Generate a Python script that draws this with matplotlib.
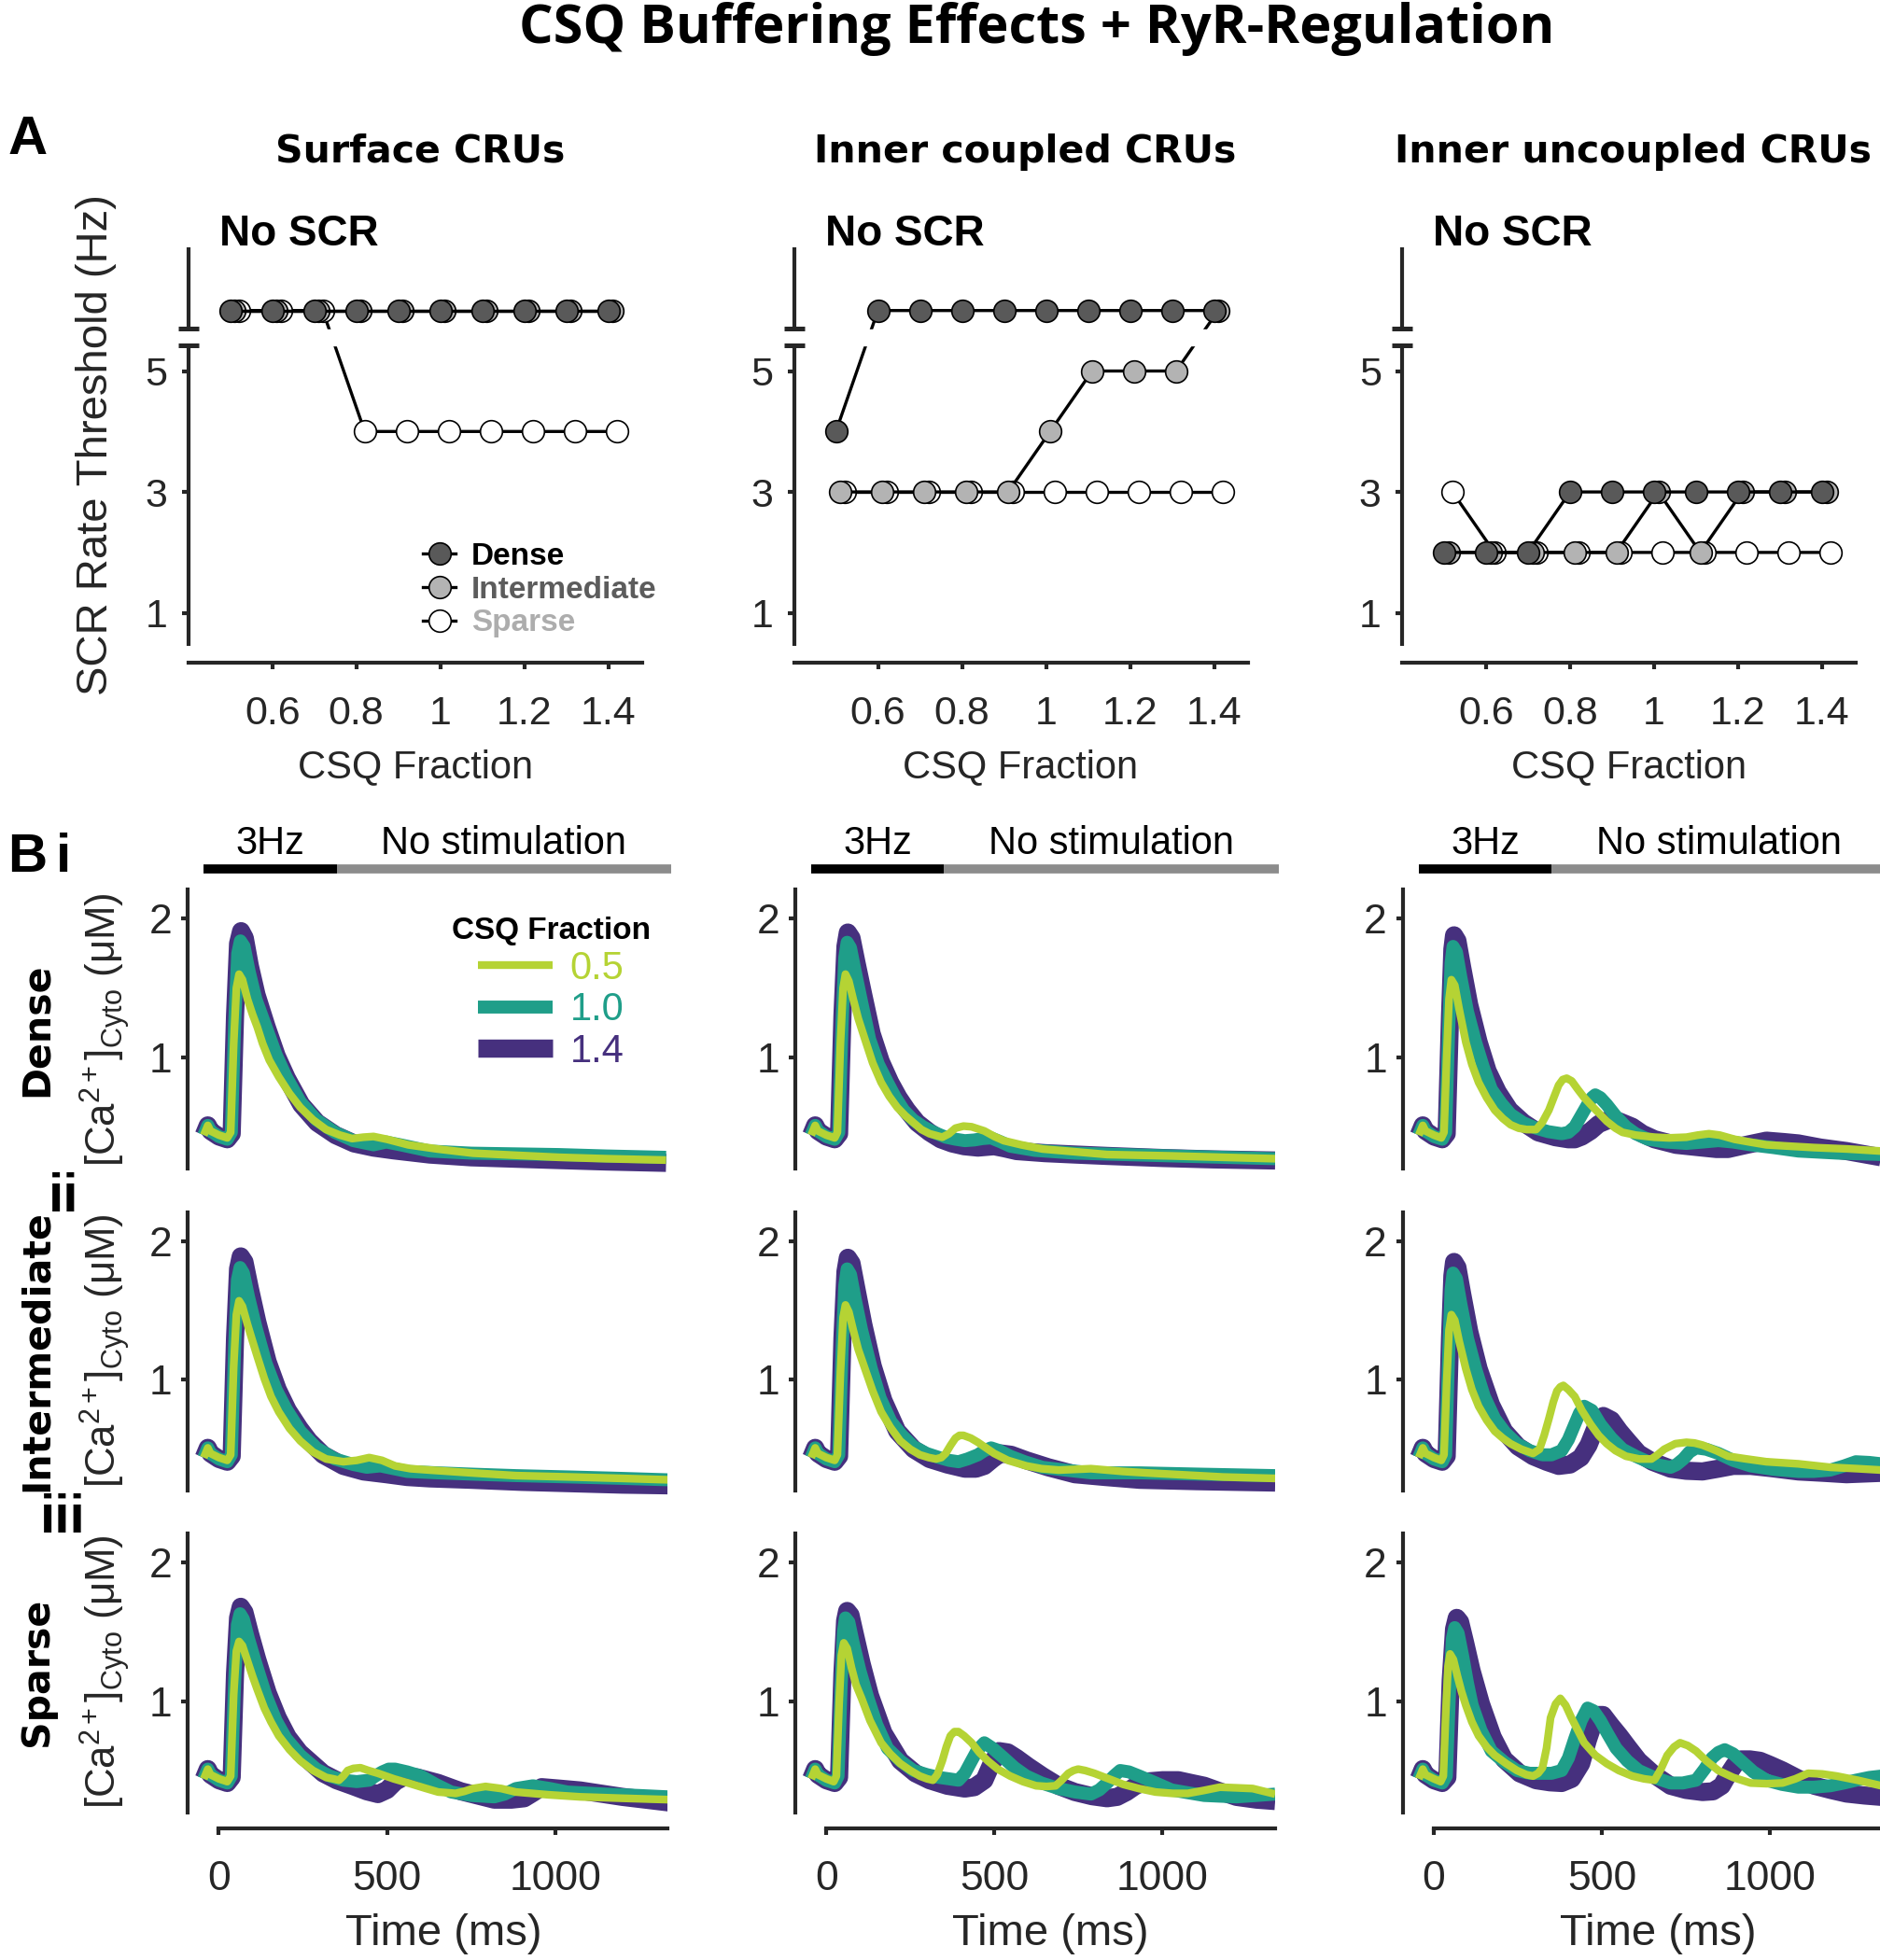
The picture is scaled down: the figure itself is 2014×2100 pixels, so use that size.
import numpy as np
import matplotlib
matplotlib.use('Agg')
import matplotlib.pyplot as plt

plt.rcParams['font.family'] = ['Liberation Sans', 'DejaVu Sans']
plt.rcParams['mathtext.fontset'] = 'custom'
plt.rcParams['mathtext.rm'] = 'Liberation Sans'
plt.rcParams['mathtext.it'] = 'Liberation Sans:italic'
plt.rcParams['mathtext.bf'] = 'Liberation Sans:bold'

# ---------------- panel A: SCR rate threshold (Hz), 6 = "No SCR" ----------------
csq_fraction = [0.5, 0.6, 0.7, 0.8, 0.9, 1.0, 1.1, 1.2, 1.3, 1.4]
surf_dense = [6, 6, 6, 6, 6, 6, 6, 6, 6, 6]
surf_inter = [6, 6, 6, 6, 6, 6, 6, 6, 6, 6]
surf_sparse = [6, 6, 6, 4, 4, 4, 4, 4, 4, 4]
coup_dense = [4, 6, 6, 6, 6, 6, 6, 6, 6, 6]
coup_inter = [3, 3, 3, 3, 3, 4, 5, 5, 5, 6]
coup_sparse = [3, 3, 3, 3, 3, 3, 3, 3, 3, 3]
unc_dense = [2, 2, 2, 3, 3, 3, 3, 3, 3, 3]
unc_inter = [2, 2, 2, 2, 2, 3, 2, 3, 3, 3]
unc_sparse = [3, 2, 2, 2, 2, 2, 2, 2, 2, 2]
region_titles = ['Surface CRUs', 'Inner coupled CRUs', 'Inner uncoupled CRUs']
density_names = ['Dense', 'Intermediate', 'Sparse']

# ---------------- panel B: cytosolic Ca2+ (uM) vs time (ms) ----------------
stim_window = [-45, 350]
rest_window = [350, 1345]

# surface CRUs
surf_dense_05_t = [-45, -33, -25, 0, 25, 35, 44, 52, 60, 70, 85, 100, 114, 130, 150, 178, 210, 242, 280, 319, 360, 396, 430, 460, 500, 563, 650, 755, 880, 1011, 1150, 1330]
surf_dense_05_ca = [0.44, 0.51, 0.47, 0.44, 0.42, 0.46, 1.10, 1.50, 1.60, 1.56, 1.42, 1.31, 1.22, 1.10, 0.98, 0.86, 0.74, 0.64, 0.55, 0.48, 0.44, 0.415, 0.425, 0.43, 0.41, 0.37, 0.34, 0.31, 0.295, 0.28, 0.27, 0.26]
surf_dense_10_t = [-45, -33, -25, 0, 25, 37, 47, 56, 64, 75, 90, 110, 140, 170, 200, 242, 290, 345, 400, 460, 498, 540, 627, 750, 880, 1011, 1150, 1330]
surf_dense_10_ca = [0.44, 0.51, 0.47, 0.43, 0.41, 0.46, 1.25, 1.75, 1.84, 1.80, 1.62, 1.42, 1.22, 1.02, 0.86, 0.68, 0.55, 0.46, 0.40, 0.37, 0.39, 0.37, 0.325, 0.31, 0.305, 0.30, 0.29, 0.28]
surf_dense_14_t = [-45, -33, -25, 0, 25, 38, 48, 57, 66, 77, 92, 112, 142, 172, 202, 245, 292, 347, 402, 460, 520, 627, 750, 880, 1011, 1150, 1330]
surf_dense_14_ca = [0.44, 0.51, 0.47, 0.43, 0.41, 0.45, 1.3, 1.82, 1.91, 1.86, 1.66, 1.45, 1.22, 1.01, 0.85, 0.66, 0.53, 0.44, 0.38, 0.35, 0.33, 0.30, 0.28, 0.27, 0.26, 0.25, 0.24]

surf_inter_05_t = [-45, -33, -25, 0, 25, 35, 44, 52, 60, 70, 85, 100, 114, 135, 155, 178, 210, 242, 280, 319, 370, 410, 447, 485, 524, 570, 627, 750, 883, 1050, 1200, 1335]
surf_inter_05_ca = [0.44, 0.51, 0.47, 0.44, 0.42, 0.46, 1.1, 1.47, 1.57, 1.53, 1.40, 1.28, 1.17, 1.01, 0.88, 0.77, 0.65, 0.56, 0.48, 0.43, 0.41, 0.42, 0.44, 0.42, 0.38, 0.36, 0.35, 0.33, 0.31, 0.30, 0.29, 0.28]
surf_inter_10_t = [-45, -33, -25, 0, 25, 37, 47, 55, 63, 73, 88, 110, 140, 170, 200, 242, 290, 345, 400, 440, 480, 520, 560, 650, 760, 883, 1050, 1200, 1335]
surf_inter_10_ca = [0.44, 0.51, 0.47, 0.43, 0.41, 0.46, 1.25, 1.72, 1.81, 1.77, 1.60, 1.38, 1.12, 0.93, 0.79, 0.63, 0.51, 0.43, 0.39, 0.37, 0.38, 0.36, 0.34, 0.33, 0.32, 0.31, 0.30, 0.29, 0.28]
surf_inter_14_t = [-45, -33, -25, 0, 25, 38, 48, 57, 65, 76, 92, 114, 145, 175, 205, 240, 268, 310, 370, 430, 498, 560, 627, 750, 900, 1050, 1200, 1338]
surf_inter_14_ca = [0.44, 0.51, 0.47, 0.43, 0.41, 0.45, 1.3, 1.80, 1.89, 1.85, 1.66, 1.42, 1.13, 0.93, 0.78, 0.65, 0.56, 0.46, 0.38, 0.34, 0.32, 0.30, 0.29, 0.28, 0.265, 0.255, 0.245, 0.24]

surf_sparse_05_t = [-45, -33, -25, 0, 25, 35, 44, 52, 60, 70, 85, 100, 114, 135, 155, 178, 210, 242, 280, 319, 340, 357, 370, 383, 400, 421, 445, 473, 520, 563, 610, 652, 704, 730, 755, 793, 840, 883, 980, 1075, 1200, 1338]
surf_sparse_05_ca = [0.44, 0.51, 0.47, 0.44, 0.42, 0.46, 1.05, 1.36, 1.43, 1.40, 1.29, 1.18, 1.085, 0.95, 0.85, 0.75, 0.65, 0.57, 0.50, 0.45, 0.44, 0.43, 0.46, 0.50, 0.515, 0.52, 0.50, 0.48, 0.44, 0.41, 0.375, 0.345, 0.335, 0.35, 0.37, 0.385, 0.37, 0.345, 0.325, 0.31, 0.30, 0.29]
surf_sparse_10_t = [-45, -33, -25, 0, 25, 37, 47, 55, 63, 73, 88, 110, 140, 170, 200, 242, 290, 330, 370, 410, 447, 465, 486, 505, 524, 560, 601, 645, 691, 750, 819, 850, 883, 934, 985, 1037, 1150, 1250, 1338]
surf_sparse_10_ca = [0.44, 0.51, 0.47, 0.43, 0.41, 0.46, 1.15, 1.55, 1.63, 1.59, 1.45, 1.27, 1.04, 0.86, 0.73, 0.61, 0.51, 0.46, 0.43, 0.42, 0.43, 0.46, 0.49, 0.51, 0.51, 0.49, 0.46, 0.40, 0.345, 0.32, 0.31, 0.33, 0.37, 0.39, 0.37, 0.345, 0.33, 0.32, 0.31]
surf_sparse_14_t = [-45, -33, -25, 0, 25, 38, 48, 57, 65, 76, 92, 114, 145, 175, 205, 240, 268, 310, 350, 396, 440, 473, 500, 525, 555, 590, 652, 720, 819, 870, 908, 935, 960, 1010, 1075, 1200, 1338]
surf_sparse_14_ca = [0.44, 0.51, 0.47, 0.43, 0.41, 0.45, 1.2, 1.60, 1.68, 1.64, 1.49, 1.30, 1.06, 0.88, 0.74, 0.63, 0.57, 0.48, 0.43, 0.39, 0.35, 0.33, 0.36, 0.42, 0.46, 0.45, 0.41, 0.35, 0.29, 0.29, 0.30, 0.34, 0.38, 0.37, 0.356, 0.31, 0.27]

# inner coupled CRUs
coup_dense_05_t = [-45, -33, -25, 0, 25, 33, 42, 50, 57, 67, 80, 95, 115, 138, 163, 187, 211, 235, 259, 283, 307, 345, 365, 384, 408, 432, 470, 500, 528, 580, 643, 740, 835, 1027, 1180, 1335]
coup_dense_05_ca = [0.44, 0.51, 0.47, 0.44, 0.42, 0.46, 1.1, 1.5, 1.60, 1.55, 1.42, 1.28, 1.13, 0.96, 0.82, 0.72, 0.64, 0.58, 0.53, 0.48, 0.45, 0.425, 0.45, 0.49, 0.505, 0.50, 0.47, 0.43, 0.40, 0.37, 0.34, 0.32, 0.30, 0.29, 0.28, 0.27]
coup_dense_10_t = [-45, -33, -25, 0, 25, 37, 47, 55, 62, 72, 86, 105, 129, 155, 182, 206, 230, 258, 288, 320, 355, 385, 412, 440, 465, 490, 520, 547, 620, 739, 880, 1027, 1180, 1335]
coup_dense_10_ca = [0.44, 0.51, 0.47, 0.43, 0.41, 0.46, 1.25, 1.72, 1.83, 1.79, 1.62, 1.40, 1.13, 0.95, 0.82, 0.71, 0.62, 0.55, 0.50, 0.46, 0.425, 0.41, 0.40, 0.405, 0.415, 0.42, 0.39, 0.36, 0.33, 0.31, 0.30, 0.29, 0.28, 0.27]
coup_dense_14_t = [-45, -33, -25, 0, 25, 38, 48, 57, 64, 75, 90, 110, 135, 162, 190, 215, 240, 270, 307, 340, 374, 410, 451, 499, 530, 566, 650, 740, 835, 1000, 1150, 1335]
coup_dense_14_ca = [0.44, 0.51, 0.47, 0.43, 0.41, 0.45, 1.3, 1.80, 1.90, 1.86, 1.68, 1.45, 1.17, 0.97, 0.82, 0.71, 0.62, 0.53, 0.46, 0.41, 0.38, 0.36, 0.35, 0.36, 0.345, 0.325, 0.31, 0.30, 0.29, 0.275, 0.265, 0.257]

coup_inter_05_t = [-45, -33, -25, 0, 25, 33, 42, 50, 57, 67, 80, 95, 115, 138, 163, 190, 220, 250, 278, 305, 326, 342, 355, 370, 384, 396, 408, 430, 451, 475, 499, 540, 595, 640, 691, 740, 787, 835, 883, 950, 1027, 1180, 1335]
coup_inter_05_ca = [0.44, 0.51, 0.47, 0.44, 0.42, 0.46, 1.05, 1.45, 1.54, 1.49, 1.36, 1.22, 1.08, 0.92, 0.77, 0.66, 0.56, 0.50, 0.46, 0.44, 0.43, 0.44, 0.47, 0.53, 0.58, 0.60, 0.60, 0.58, 0.55, 0.51, 0.47, 0.42, 0.38, 0.36, 0.35, 0.355, 0.36, 0.35, 0.34, 0.33, 0.32, 0.30, 0.29]
coup_inter_10_t = [-45, -33, -25, 0, 25, 37, 47, 55, 62, 72, 86, 105, 134, 160, 192, 225, 259, 298, 336, 365, 393, 420, 451, 470, 490, 515, 547, 590, 643, 710, 787, 860, 931, 1030, 1124, 1230, 1335]
coup_inter_10_ca = [0.44, 0.51, 0.47, 0.43, 0.41, 0.46, 1.22, 1.68, 1.80, 1.76, 1.58, 1.36, 1.08, 0.87, 0.70, 0.60, 0.52, 0.47, 0.44, 0.42, 0.41, 0.43, 0.46, 0.49, 0.51, 0.49, 0.45, 0.41, 0.37, 0.35, 0.33, 0.33, 0.33, 0.325, 0.32, 0.315, 0.31]
coup_inter_14_t = [-45, -33, -25, 0, 25, 38, 48, 57, 64, 75, 90, 110, 138, 170, 211, 260, 307, 360, 412, 445, 470, 495, 518, 550, 595, 660, 739, 830, 931, 1100, 1335]
coup_inter_14_ca = [0.44, 0.51, 0.47, 0.43, 0.41, 0.45, 1.3, 1.78, 1.88, 1.84, 1.65, 1.40, 1.10, 0.85, 0.63, 0.50, 0.43, 0.39, 0.36, 0.36, 0.38, 0.43, 0.47, 0.46, 0.42, 0.37, 0.32, 0.30, 0.28, 0.27, 0.26]

coup_sparse_05_t = [-45, -33, -25, 0, 22, 30, 38, 45, 52, 62, 75, 88, 105, 130, 163, 190, 220, 250, 278, 300, 317, 330, 345, 357, 369, 381, 393, 410, 432, 455, 480, 510, 547, 585, 624, 655, 682, 700, 720, 735, 749, 770, 797, 840, 883, 930, 979, 1030, 1075, 1120, 1171, 1220, 1268, 1335]
coup_sparse_05_ca = [0.44, 0.51, 0.47, 0.44, 0.42, 0.46, 0.98, 1.33, 1.42, 1.38, 1.24, 1.12, 1.02, 0.86, 0.70, 0.62, 0.55, 0.50, 0.46, 0.44, 0.43, 0.47, 0.57, 0.67, 0.75, 0.78, 0.78, 0.75, 0.70, 0.63, 0.57, 0.51, 0.46, 0.42, 0.39, 0.385, 0.39, 0.43, 0.48, 0.50, 0.51, 0.50, 0.48, 0.44, 0.40, 0.37, 0.345, 0.335, 0.335, 0.355, 0.38, 0.375, 0.37, 0.33]
coup_sparse_10_t = [-45, -33, -25, 0, 25, 35, 44, 51, 57, 67, 80, 100, 124, 150, 182, 220, 259, 300, 336, 365, 393, 412, 432, 450, 470, 495, 528, 560, 595, 640, 691, 740, 787, 812, 835, 855, 874, 900, 931, 980, 1027, 1075, 1124, 1170, 1220, 1280, 1335]
coup_sparse_10_ca = [0.44, 0.51, 0.47, 0.43, 0.41, 0.46, 1.1, 1.50, 1.60, 1.57, 1.42, 1.22, 1.02, 0.83, 0.66, 0.57, 0.50, 0.47, 0.45, 0.44, 0.43, 0.48, 0.57, 0.65, 0.70, 0.66, 0.59, 0.52, 0.46, 0.41, 0.37, 0.345, 0.33, 0.36, 0.41, 0.46, 0.50, 0.49, 0.46, 0.41, 0.36, 0.34, 0.32, 0.315, 0.31, 0.32, 0.33]
coup_sparse_14_t = [-45, -33, -25, 0, 25, 38, 48, 56, 62, 72, 86, 105, 130, 170, 220, 265, 307, 360, 412, 440, 470, 490, 513, 540, 566, 600, 643, 690, 739, 790, 835, 865, 893, 920, 950, 1000, 1047, 1085, 1124, 1170, 1220, 1280, 1335]
coup_sparse_14_ca = [0.44, 0.51, 0.47, 0.43, 0.41, 0.45, 1.2, 1.58, 1.65, 1.62, 1.47, 1.27, 1.04, 0.77, 0.57, 0.48, 0.43, 0.39, 0.37, 0.38, 0.43, 0.54, 0.64, 0.63, 0.59, 0.53, 0.46, 0.39, 0.345, 0.315, 0.30, 0.31, 0.345, 0.39, 0.42, 0.43, 0.43, 0.41, 0.39, 0.35, 0.31, 0.29, 0.28]

# inner uncoupled CRUs
unc_dense_05_t = [-45, -33, -25, 0, 22, 30, 38, 45, 52, 62, 75, 95, 113, 133, 157, 181, 205, 228, 252, 276, 304, 322, 342, 358, 371, 383, 395, 410, 428, 447, 466, 490, 514, 540, 561, 600, 656, 700, 751, 785, 818, 850, 894, 940, 989, 1060, 1132, 1230, 1331]
unc_dense_05_ca = [0.44, 0.51, 0.47, 0.44, 0.42, 0.46, 1.0, 1.42, 1.56, 1.52, 1.35, 1.11, 0.95, 0.82, 0.71, 0.62, 0.56, 0.515, 0.49, 0.48, 0.48, 0.53, 0.62, 0.72, 0.80, 0.84, 0.85, 0.83, 0.77, 0.71, 0.66, 0.60, 0.54, 0.49, 0.46, 0.44, 0.425, 0.42, 0.425, 0.44, 0.45, 0.44, 0.41, 0.39, 0.37, 0.36, 0.35, 0.34, 0.325]
unc_dense_10_t = [-45, -33, -25, 0, 25, 35, 44, 51, 57, 67, 80, 100, 124, 147, 171, 200, 228, 265, 304, 340, 380, 400, 419, 438, 457, 470, 480, 495, 514, 540, 571, 600, 637, 690, 751, 800, 846, 890, 942, 1010, 1084, 1200, 1331]
unc_dense_10_ca = [0.44, 0.51, 0.47, 0.43, 0.41, 0.46, 1.2, 1.68, 1.80, 1.76, 1.58, 1.33, 1.11, 0.93, 0.77, 0.67, 0.59, 0.53, 0.49, 0.465, 0.45, 0.46, 0.50, 0.58, 0.66, 0.71, 0.73, 0.71, 0.66, 0.58, 0.50, 0.45, 0.41, 0.39, 0.38, 0.39, 0.40, 0.39, 0.37, 0.35, 0.325, 0.31, 0.30]
unc_dense_14_t = [-45, -33, -25, 0, 25, 38, 48, 55, 60, 70, 84, 105, 133, 160, 190, 225, 266, 310, 361, 400, 419, 440, 466, 490, 520, 550, 590, 620, 656, 720, 799, 840, 875, 930, 989, 1040, 1084, 1150, 1227, 1331]
unc_dense_14_ca = [0.44, 0.51, 0.47, 0.43, 0.41, 0.45, 1.3, 1.78, 1.88, 1.84, 1.65, 1.38, 1.11, 0.90, 0.75, 0.62, 0.53, 0.46, 0.425, 0.41, 0.41, 0.43, 0.47, 0.52, 0.55, 0.54, 0.50, 0.45, 0.41, 0.37, 0.35, 0.34, 0.34, 0.37, 0.40, 0.39, 0.38, 0.35, 0.325, 0.28]

unc_inter_05_t = [-45, -33, -25, 0, 22, 30, 38, 45, 52, 62, 75, 95, 113, 133, 157, 181, 205, 228, 260, 295, 314, 328, 342, 355, 366, 376, 385, 400, 419, 440, 466, 490, 514, 540, 571, 610, 647, 665, 685, 718, 751, 775, 799, 840, 875, 930, 989, 1084, 1179, 1260, 1331]
unc_inter_05_ca = [0.44, 0.51, 0.47, 0.44, 0.42, 0.46, 0.98, 1.36, 1.47, 1.43, 1.28, 1.08, 0.93, 0.81, 0.71, 0.63, 0.58, 0.54, 0.50, 0.47, 0.50, 0.60, 0.72, 0.84, 0.92, 0.95, 0.96, 0.93, 0.88, 0.78, 0.68, 0.60, 0.54, 0.49, 0.45, 0.43, 0.43, 0.46, 0.50, 0.54, 0.55, 0.545, 0.53, 0.49, 0.45, 0.43, 0.41, 0.395, 0.37, 0.36, 0.35]
unc_inter_10_t = [-45, -33, -25, 0, 25, 35, 44, 51, 57, 67, 80, 100, 124, 150, 181, 212, 247, 285, 323, 350, 380, 400, 419, 433, 447, 470, 495, 528, 561, 600, 637, 670, 704, 722, 742, 760, 780, 810, 846, 890, 942, 1010, 1084, 1130, 1179, 1220, 1255, 1295, 1331]
unc_inter_10_ca = [0.44, 0.51, 0.47, 0.43, 0.41, 0.46, 1.2, 1.65, 1.77, 1.73, 1.55, 1.30, 1.08, 0.88, 0.72, 0.62, 0.54, 0.49, 0.46, 0.46, 0.49, 0.57, 0.68, 0.76, 0.81, 0.78, 0.68, 0.58, 0.50, 0.45, 0.41, 0.385, 0.37, 0.39, 0.43, 0.48, 0.51, 0.50, 0.47, 0.42, 0.38, 0.355, 0.34, 0.34, 0.35, 0.38, 0.41, 0.405, 0.395]
unc_inter_14_t = [-45, -33, -25, 0, 25, 38, 48, 55, 60, 70, 84, 105, 133, 170, 209, 250, 295, 335, 371, 405, 437, 460, 480, 504, 528, 552, 580, 609, 650, 704, 750, 799, 846, 890, 942, 1000, 1084, 1160, 1227, 1331]
unc_inter_14_ca = [0.44, 0.51, 0.47, 0.43, 0.41, 0.45, 1.3, 1.75, 1.85, 1.81, 1.62, 1.35, 1.08, 0.82, 0.63, 0.52, 0.45, 0.41, 0.38, 0.39, 0.44, 0.53, 0.65, 0.74, 0.71, 0.63, 0.55, 0.47, 0.41, 0.36, 0.345, 0.34, 0.36, 0.38, 0.38, 0.365, 0.34, 0.33, 0.32, 0.33]

unc_sparse_05_t = [-45, -33, -25, 0, 20, 28, 35, 42, 48, 58, 70, 82, 95, 113, 133, 157, 181, 215, 247, 275, 295, 310, 323, 335, 347, 362, 376, 392, 409, 428, 447, 480, 514, 550, 590, 625, 656, 675, 694, 714, 732, 755, 780, 810, 846, 890, 942, 990, 1037, 1075, 1113, 1155, 1198, 1260, 1331]
unc_sparse_05_ca = [0.44, 0.51, 0.47, 0.44, 0.42, 0.46, 0.9, 1.25, 1.34, 1.30, 1.18, 1.07, 0.97, 0.85, 0.75, 0.67, 0.61, 0.55, 0.50, 0.47, 0.46, 0.48, 0.52, 0.66, 0.88, 0.98, 1.02, 0.97, 0.88, 0.79, 0.70, 0.61, 0.55, 0.50, 0.46, 0.44, 0.43, 0.51, 0.61, 0.67, 0.70, 0.68, 0.64, 0.57, 0.50, 0.45, 0.41, 0.405, 0.41, 0.44, 0.48, 0.475, 0.46, 0.43, 0.39]
unc_sparse_10_t = [-45, -33, -25, 0, 25, 37, 47, 55, 62, 72, 86, 100, 114, 140, 171, 210, 247, 285, 323, 350, 380, 400, 419, 438, 457, 475, 495, 518, 542, 575, 609, 655, 704, 740, 780, 805, 827, 846, 865, 890, 913, 950, 989, 1035, 1084, 1130, 1179, 1220, 1255, 1295, 1331]
unc_sparse_10_ca = [0.44, 0.51, 0.47, 0.43, 0.41, 0.46, 1.1, 1.45, 1.53, 1.49, 1.32, 1.13, 0.97, 0.79, 0.64, 0.56, 0.50, 0.48, 0.48, 0.48, 0.50, 0.59, 0.73, 0.86, 0.95, 0.93, 0.86, 0.76, 0.66, 0.57, 0.50, 0.45, 0.41, 0.41, 0.43, 0.51, 0.59, 0.63, 0.65, 0.62, 0.57, 0.49, 0.43, 0.40, 0.38, 0.38, 0.39, 0.41, 0.43, 0.45, 0.46]
unc_sparse_14_t = [-45, -33, -25, 0, 25, 40, 50, 60, 68, 78, 92, 112, 140, 175, 209, 255, 304, 345, 380, 410, 438, 458, 476, 490, 503, 525, 552, 580, 609, 655, 704, 750, 799, 830, 856, 875, 894, 913, 940, 970, 1000, 1037, 1085, 1132, 1180, 1227, 1280, 1331]
unc_sparse_14_ca = [0.44, 0.51, 0.47, 0.43, 0.41, 0.45, 1.15, 1.52, 1.60, 1.57, 1.43, 1.22, 0.98, 0.74, 0.58, 0.48, 0.43, 0.415, 0.41, 0.44, 0.55, 0.72, 0.85, 0.90, 0.90, 0.83, 0.75, 0.66, 0.57, 0.47, 0.39, 0.36, 0.345, 0.35, 0.39, 0.47, 0.54, 0.58, 0.58, 0.57, 0.54, 0.50, 0.44, 0.39, 0.36, 0.334, 0.32, 0.31]

csq_levels = ['0.5', '1.0', '1.4']
csq_colors = ['#b5d334', '#1f9e89', '#46307e']
csq_widths = [6, 10, 14]

# ---------------- layout helpers (figure pixels) ----------------
W, H = 2014, 2100
AXC = '#262626'


def fx(x):
    return x / W


def fy(y):
    return 1 - y / H


fig = plt.figure(figsize=(W / 100, H / 100), dpi=100)

fig.text(fx(1111), fy(31), 'CSQ Buffering Effects + RyR-Regulation', ha='center', va='center',
         fontsize=41.5, fontweight='bold', family=['Open Sans', 'DejaVu Sans'])

# ---------------- panel A ----------------
a_left = [201.7, 850.5, 1502.0]
a_top, a_bot = 265.0, 710.0
a_series = [
    (surf_dense, surf_inter, surf_sparse),
    (coup_dense, coup_inter, coup_sparse),
    (unc_dense, unc_inter, unc_sparse),
]
faces = ['#595959', '#b3b3b3', 'white']
offsets = [0.0, 0.01, 0.02]
legend_handles = None
x = np.array(csq_fraction)
for k in range(3):
    ax = fig.add_axes([fx(a_left[k]), fy(a_bot), 486 / W, (a_bot - a_top) / H])
    ax.set_xlim(0.4, 1.48)
    ax.set_ylim(0.177, 7.045)
    handles = []
    # sparse first so dense sits on top
    for j in [2, 1, 0]:
        h, = ax.plot(x + offsets[j], a_series[k][j], '-o', color='black', lw=2.4, ms=17,
                     mfc=faces[j], mec='black', mew=1.2, zorder=3 + (2 - j) * 0.1, clip_on=False)
        handles.append(h)
    if legend_handles is None:
        legend_handles = handles[::-1]
    # gap for the axis break
    ax.axhspan(5.43, 5.69, color='white', zorder=4)
    for s in ['top', 'right', 'left']:
        ax.spines[s].set_visible(False)
    ax.spines['bottom'].set_linewidth(3)
    ax.spines['bottom'].set_color(AXC)
    ytr = ax.get_yaxis_transform()
    ax.plot([0, 0], [0.46, 5.42], color=AXC, lw=3, transform=ytr, clip_on=False,
            solid_capstyle='butt', zorder=6)
    ax.plot([0, 0], [5.70, 7.045], color=AXC, lw=3, transform=ytr, clip_on=False,
            solid_capstyle='butt', zorder=6)
    ax.plot([0, 0], [5.42, 5.70], ls='none', marker='_', ms=16, mew=3.6, color=AXC,
            transform=ytr, clip_on=False, zorder=6)
    ax.set_xticks([0.6, 0.8, 1.0, 1.2, 1.4])
    ax.set_xticklabels(['0.6', '0.8', '1', '1.2', '1.4'])
    ax.set_yticks([1, 3, 5])
    ax.set_yticklabels(['1', '3', '5'])
    ax.tick_params(axis='both', direction='out', length=5, width=3, color=AXC,
                   labelcolor=AXC, labelsize=31)
    ax.tick_params(axis='x', pad=20)
    ax.tick_params(axis='y', pad=11)
    ax.patch.set_visible(False)
    cx = a_left[k] + 243
    fig.text(fx(cx + 5), fy(174), region_titles[k], ha='center', va='baseline',
             fontsize=29.5, fontweight='bold', family='DejaVu Sans')
    fig.text(fx(a_left[k] + 33), fy(263), 'No SCR', ha='left', va='baseline',
             fontsize=33, fontweight='bold')
    fig.text(fx(cx), fy(822), 'CSQ Fraction', ha='center', va='center', fontsize=30, color=AXC)
    if k == 0:
        leg = ax.legend(handles=legend_handles, labels=density_names, loc='upper left',
                        bbox_to_anchor=(fx(453), fy(581)), bbox_transform=fig.transFigure,
                        frameon=False, prop={'weight': 'bold', 'size': 24}, handlelength=1.05,
                        handletextpad=0.5, labelspacing=0.14, borderpad=0, borderaxespad=0)
        for t, c in zip(leg.get_texts(), ['black', '#5c5c5c', '#adadad']):
            t.set_color(c)

fig.text(fx(103), fy(477), 'SCR Rate Threshold (Hz)', rotation=90, ha='center', va='center',
         fontsize=34, color=AXC)
fig.text(fx(29.5), fy(150), 'A', ha='center', va='center', fontsize=42, fontweight='bold')

# ---------------- panel B ----------------
b_traces = {
    ('surf', 'dense'): [(surf_dense_05_t, surf_dense_05_ca), (surf_dense_10_t, surf_dense_10_ca), (surf_dense_14_t, surf_dense_14_ca)],
    ('surf', 'inter'): [(surf_inter_05_t, surf_inter_05_ca), (surf_inter_10_t, surf_inter_10_ca), (surf_inter_14_t, surf_inter_14_ca)],
    ('surf', 'sparse'): [(surf_sparse_05_t, surf_sparse_05_ca), (surf_sparse_10_t, surf_sparse_10_ca), (surf_sparse_14_t, surf_sparse_14_ca)],
    ('coup', 'dense'): [(coup_dense_05_t, coup_dense_05_ca), (coup_dense_10_t, coup_dense_10_ca), (coup_dense_14_t, coup_dense_14_ca)],
    ('coup', 'inter'): [(coup_inter_05_t, coup_inter_05_ca), (coup_inter_10_t, coup_inter_10_ca), (coup_inter_14_t, coup_inter_14_ca)],
    ('coup', 'sparse'): [(coup_sparse_05_t, coup_sparse_05_ca), (coup_sparse_10_t, coup_sparse_10_ca), (coup_sparse_14_t, coup_sparse_14_ca)],
    ('unc', 'dense'): [(unc_dense_05_t, unc_dense_05_ca), (unc_dense_10_t, unc_dense_10_ca), (unc_dense_14_t, unc_dense_14_ca)],
    ('unc', 'inter'): [(unc_inter_05_t, unc_inter_05_ca), (unc_inter_10_t, unc_inter_10_ca), (unc_inter_14_t, unc_inter_14_ca)],
    ('unc', 'sparse'): [(unc_sparse_05_t, unc_sparse_05_ca), (unc_sparse_10_t, unc_sparse_10_ca), (unc_sparse_14_t, unc_sparse_14_ca)],
}
regions = ['surf', 'coup', 'unc']
densities = ['dense', 'inter', 'sparse']

px_ms = 0.3602
px_unit = 148.65
xlim_b = (-93, 1335)
ylim_b = (0.08, 2.21)
b_left = [201.0, 851.7, 1502.6]
b_zero = [1281.6, 1627.1, 1971.3]
bw = (xlim_b[1] - xlim_b[0]) * px_ms
bh = (ylim_b[1] - ylim_b[0]) * px_unit
ylab = r'[Ca$^{2+}$]$_{\mathrm{Cyto}}$ (μM)'

for r in range(3):
    for c in range(3):
        bottom = b_zero[r] - ylim_b[0] * px_unit
        ax = fig.add_axes([fx(b_left[c]), fy(bottom), bw / W, bh / H])
        ax.set_xlim(*xlim_b)
        ax.set_ylim(*ylim_b)
        lines = []
        for i in [2, 1, 0]:
            t, ca = b_traces[(regions[c], densities[r])][i]
            ln, = ax.plot(t, ca, color=csq_colors[i], lw=csq_widths[i],
                          solid_joinstyle='round', solid_capstyle='butt')
            lines.append(ln)
        for s in ['top', 'right']:
            ax.spines[s].set_visible(False)
        ax.spines['left'].set_bounds(0.2, 2.21)
        ax.spines['left'].set_linewidth(3)
        ax.spines['left'].set_color(AXC)
        ax.set_yticks([1, 2])
        ax.set_yticklabels(['1', '2'])
        ax.tick_params(axis='both', direction='out', length=5, width=3, color=AXC,
                       labelcolor=AXC, labelsize=32)
        ax.tick_params(axis='y', pad=7)
        if r == 2:
            ax.spines['bottom'].set_bounds(0, xlim_b[1])
            ax.spines['bottom'].set_linewidth(3)
            ax.spines['bottom'].set_color(AXC)
            ax.set_xticks([0, 500, 1000])
            ax.set_xticklabels(['0', '500', '1000'])
            ax.tick_params(axis='x', pad=19)
            xc = b_left[c] + (xlim_b[1] / 2 - xlim_b[0]) * px_ms
            fig.text(fx(xc), fy(2072), 'Time (ms)', ha='center', va='center', fontsize=34, color=AXC)
        else:
            ax.spines['bottom'].set_visible(False)
            ax.set_xticks([])
        ax.patch.set_visible(False)
        if r == 0:
            ax.plot(stim_window, [2.36, 2.36], color='black', lw=7, solid_capstyle='butt', clip_on=False)
            ax.plot(rest_window, [2.36, 2.36], color='#8c8c8c', lw=7, solid_capstyle='butt', clip_on=False)
            ax.text(np.mean(stim_window), 2.465, '3Hz', ha='center', va='baseline', fontsize=30)
            ax.text(np.mean(rest_window), 2.465, 'No stimulation', ha='center', va='baseline', fontsize=30)
        if r == 0 and c == 0:
            hl = lines[::-1]
            leg = ax.legend(handles=hl, labels=csq_levels, title='CSQ Fraction', loc='upper right',
                            bbox_to_anchor=(fx(697), fy(982)), bbox_transform=fig.transFigure,
                            frameon=False, fontsize=30,
                            title_fontproperties={'weight': 'bold', 'size': 24},
                            handlelength=1.92, handletextpad=0.45, labelspacing=0.11,
                            borderpad=0, borderaxespad=0)
            for txt, col in zip(leg.get_texts(), csq_colors):
                txt.set_color(col)

row_centers = [1103, 1447, 1791]
for r in range(3):
    fig.text(fx(112), fy(row_centers[r]), ylab, rotation=90, ha='center', va='center',
             fontsize=31.5, color=AXC)
    fig.text(fx(40), fy(row_centers[r]), density_names[r], rotation=90, ha='center', va='center',
             fontsize=29.5, fontweight='bold', family='DejaVu Sans')

fig.text(fx(29.5), fy(919), 'B', ha='center', va='center', fontsize=42, fontweight='bold')
fig.text(fx(68), fy(919), 'i', ha='center', va='center', fontsize=42, fontweight='bold')
fig.text(fx(68), fy(1283), 'ii', ha='center', va='center', fontsize=42, fontweight='bold')
fig.text(fx(67), fy(1627), 'iii', ha='center', va='center', fontsize=42, fontweight='bold')

fig.savefig('out.png', dpi=100)
